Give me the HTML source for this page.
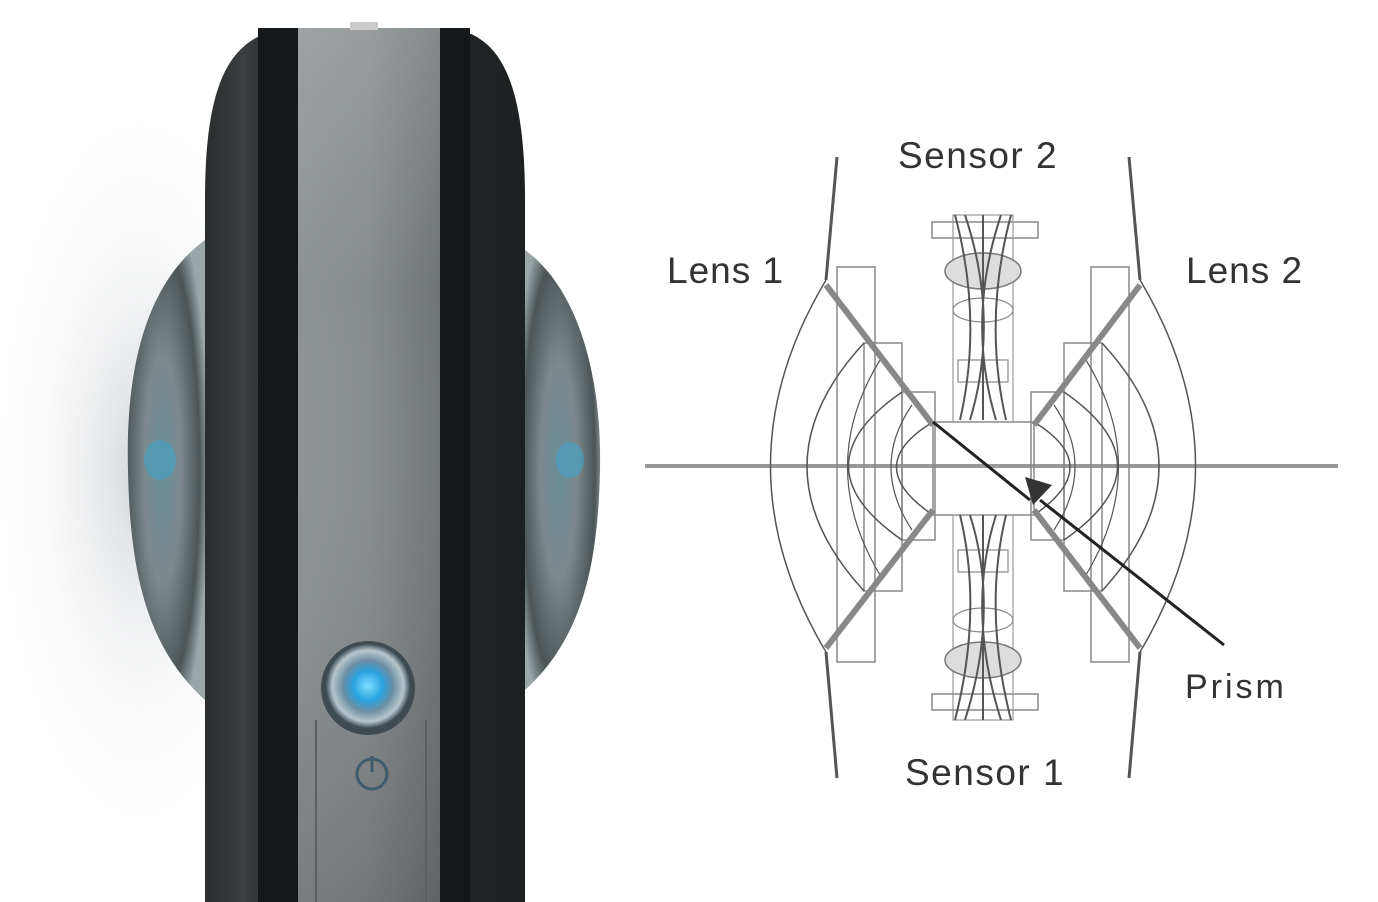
<!DOCTYPE html>
<html><head><meta charset="utf-8"><style>
html,body{margin:0;padding:0;background:#fff;}
svg{display:block;}
text{font-family:"Liberation Sans",sans-serif;fill:#333;}
</style></head><body>
<svg width="1378" height="902" viewBox="0 0 1378 902" xmlns="http://www.w3.org/2000/svg">
<defs>
<radialGradient id="shadow" cx="0.5" cy="0.5" r="0.5">
<stop offset="0" stop-color="#c8ccd0" stop-opacity="0.8"/><stop offset="1" stop-color="#fff" stop-opacity="0"/>
</radialGradient>
<linearGradient id="body" x1="0" x2="1" y1="0" y2="0">
<stop offset="0" stop-color="#2a2d2e"/><stop offset="0.12" stop-color="#3a3f40"/><stop offset="0.2" stop-color="#2b2f30"/><stop offset="1" stop-color="#1d2021"/>
</linearGradient>
<linearGradient id="silver" x1="0" x2="1" y1="0" y2="0">
<stop offset="0" stop-color="#8d9294"/><stop offset="0.5" stop-color="#868b8d"/><stop offset="1" stop-color="#6f7476"/>
</linearGradient>
<linearGradient id="silverv" x1="0" x2="0" y1="0" y2="1">
<stop offset="0" stop-color="#fff" stop-opacity="0.15"/><stop offset="0.3" stop-color="#fff" stop-opacity="0"/><stop offset="1" stop-color="#000" stop-opacity="0.15"/>
</linearGradient>
<radialGradient id="lens" cx="0.45" cy="0.5" r="0.6">
<stop offset="0" stop-color="#6a8e98"/><stop offset="0.4" stop-color="#7d8a8e"/><stop offset="0.8" stop-color="#4c5456"/><stop offset="1" stop-color="#9aa6a8"/>
</radialGradient>
<radialGradient id="btn" cx="0.5" cy="0.5" r="0.5">
<stop offset="0" stop-color="#7fe0ff"/><stop offset="0.35" stop-color="#2aa3e0"/><stop offset="0.6" stop-color="#6b8ea4"/><stop offset="0.85" stop-color="#b8c6cc"/><stop offset="1" stop-color="#40525a"/>
</radialGradient>
</defs>
<rect width="1378" height="902" fill="#fff"/>
<ellipse cx="140" cy="470" rx="150" ry="380" fill="url(#shadow)"/>
<path d="M205 240 C150 280 125 360 128 470 C130 580 150 650 205 700 Z" fill="url(#lens)"/>
<path d="M525 250 C580 290 602 380 600 470 C598 570 580 640 525 690 Z" fill="url(#lens)"/>
<ellipse cx="160" cy="460" rx="16" ry="20" fill="#4aa0c0" opacity="0.7"/>
<ellipse cx="570" cy="460" rx="14" ry="18" fill="#4aa0c0" opacity="0.7"/>
<path d="M205 902 L205 200 C205 80 230 28 300 28 L440 28 C500 28 525 80 525 200 L525 902 Z" fill="url(#body)"/>
<rect x="258" y="28" width="40" height="874" fill="#15181a"/>
<rect x="440" y="28" width="30" height="874" fill="#15181a"/>
<rect x="298" y="28" width="142" height="874" fill="url(#silver)"/>
<rect x="298" y="28" width="142" height="874" fill="url(#silverv)"/>
<rect x="350" y="22" width="28" height="8" fill="#ccc"/>
<path d="M316 720 L316 902 M426 720 L426 902" stroke="#5a6062" stroke-width="2"/>
<circle cx="368" cy="688" r="47" fill="#3e4c52"/>
<circle cx="368" cy="686" r="42" fill="url(#btn)"/>
<circle cx="372" cy="774" r="15" fill="none" stroke="#3f5a6a" stroke-width="3"/>
<line x1="372" y1="756" x2="372" y2="772" stroke="#3f5a6a" stroke-width="3"/>
<g fill="none" stroke="#555">
<line x1="645" y1="466" x2="1338" y2="466" stroke="#999" stroke-width="4"/>
<path d="M837 157 L826 280 M826 652 L837 778 M1129 157 L1140 280 M1140 652 L1129 778" stroke="#555" stroke-width="3"/>
<rect x="837" y="267" width="38" height="395" stroke="#888" stroke-width="1.5"/>
<rect x="864" y="343" width="38" height="248" stroke="#888" stroke-width="1.5"/>
<rect x="902" y="392" width="33" height="148" stroke="#888" stroke-width="1.5"/>
<rect x="1091" y="267" width="38" height="395" stroke="#888" stroke-width="1.5"/>
<rect x="1064" y="343" width="38" height="248" stroke="#888" stroke-width="1.5"/>
<rect x="1031" y="392" width="33" height="148" stroke="#888" stroke-width="1.5"/>
<rect x="933" y="422" width="101" height="93" stroke="#888" stroke-width="1.5"/>
<path d="M826 280 Q715 466 826 652" stroke-width="1.5"/>
<path d="M864 343 Q750 466 864 591" stroke-width="1.5"/>
<path d="M902 392 Q795 466 902 540" stroke-width="1.5"/>
<path d="M933 422 Q860 466 933 515" stroke-width="1.5"/>
<path d="M880 360 Q815 466 880 575" stroke-width="1.2"/>
<path d="M912 405 Q870 466 912 530" stroke-width="1.2"/>
<path d="M1140 280 Q1251 466 1140 652" stroke-width="1.5"/>
<path d="M1102 343 Q1216 466 1102 591" stroke-width="1.5"/>
<path d="M1064 392 Q1171 466 1064 540" stroke-width="1.5"/>
<path d="M1034 422 Q1106 466 1034 515" stroke-width="1.5"/>
<path d="M1086 360 Q1151 466 1086 575" stroke-width="1.2"/>
<path d="M1054 405 Q1096 466 1054 530" stroke-width="1.2"/>
<path d="M826 285 L933 425 M826 648 L933 510 M1140 285 L1034 425 M1140 648 L1034 510" stroke="#888" stroke-width="6"/>
<rect x="932" y="222" width="106" height="16" stroke="#888" stroke-width="1.5"/>
<rect x="932" y="694" width="106" height="16" stroke="#888" stroke-width="1.5"/>
<rect x="953" y="215" width="60" height="207" stroke="#999" stroke-width="1.2"/>
<rect x="953" y="515" width="60" height="205" stroke="#999" stroke-width="1.2"/>
<ellipse cx="983" cy="271" rx="38" ry="18" stroke="#777" stroke-width="1.5" fill="#ddd"/>
<ellipse cx="983" cy="660" rx="38" ry="18" stroke="#777" stroke-width="1.5" fill="#ddd"/>
<ellipse cx="983" cy="310" rx="30" ry="12" stroke="#888" stroke-width="1.2"/>
<ellipse cx="983" cy="620" rx="30" ry="12" stroke="#888" stroke-width="1.2"/>
<rect x="958" y="360" width="50" height="22" stroke="#888" stroke-width="1.2"/>
<rect x="958" y="550" width="50" height="22" stroke="#888" stroke-width="1.2"/>
<path d="M955 215 Q983 320 960 420 M1011 215 Q983 320 1006 420 M983 215 L983 420 M965 215 Q1000 320 970 420 M1001 215 Q966 320 996 420" stroke="#555" stroke-width="2"/>
<path d="M955 720 Q983 610 960 515 M1011 720 Q983 610 1006 515 M983 720 L983 515 M965 720 Q1000 610 970 515 M1001 720 Q966 610 996 515" stroke="#555" stroke-width="2"/>
<line x1="933" y1="422" x2="1030" y2="500" stroke="#222" stroke-width="3"/>
<line x1="1040" y1="500" x2="1224" y2="645" stroke="#222" stroke-width="3"/>
</g>
<polygon points="1025,477 1052,485 1033,505" fill="#333"/>
<text x="898" y="168" font-size="37" letter-spacing="1.5">Sensor 2</text>
<text x="667" y="283" font-size="37" letter-spacing="1">Lens 1</text>
<text x="1186" y="283" font-size="37" letter-spacing="1">Lens 2</text>
<text x="1185" y="698" font-size="34" letter-spacing="3">Prism</text>
<text x="905" y="785" font-size="37" letter-spacing="1.5">Sensor 1</text>
</svg>
</body></html>
